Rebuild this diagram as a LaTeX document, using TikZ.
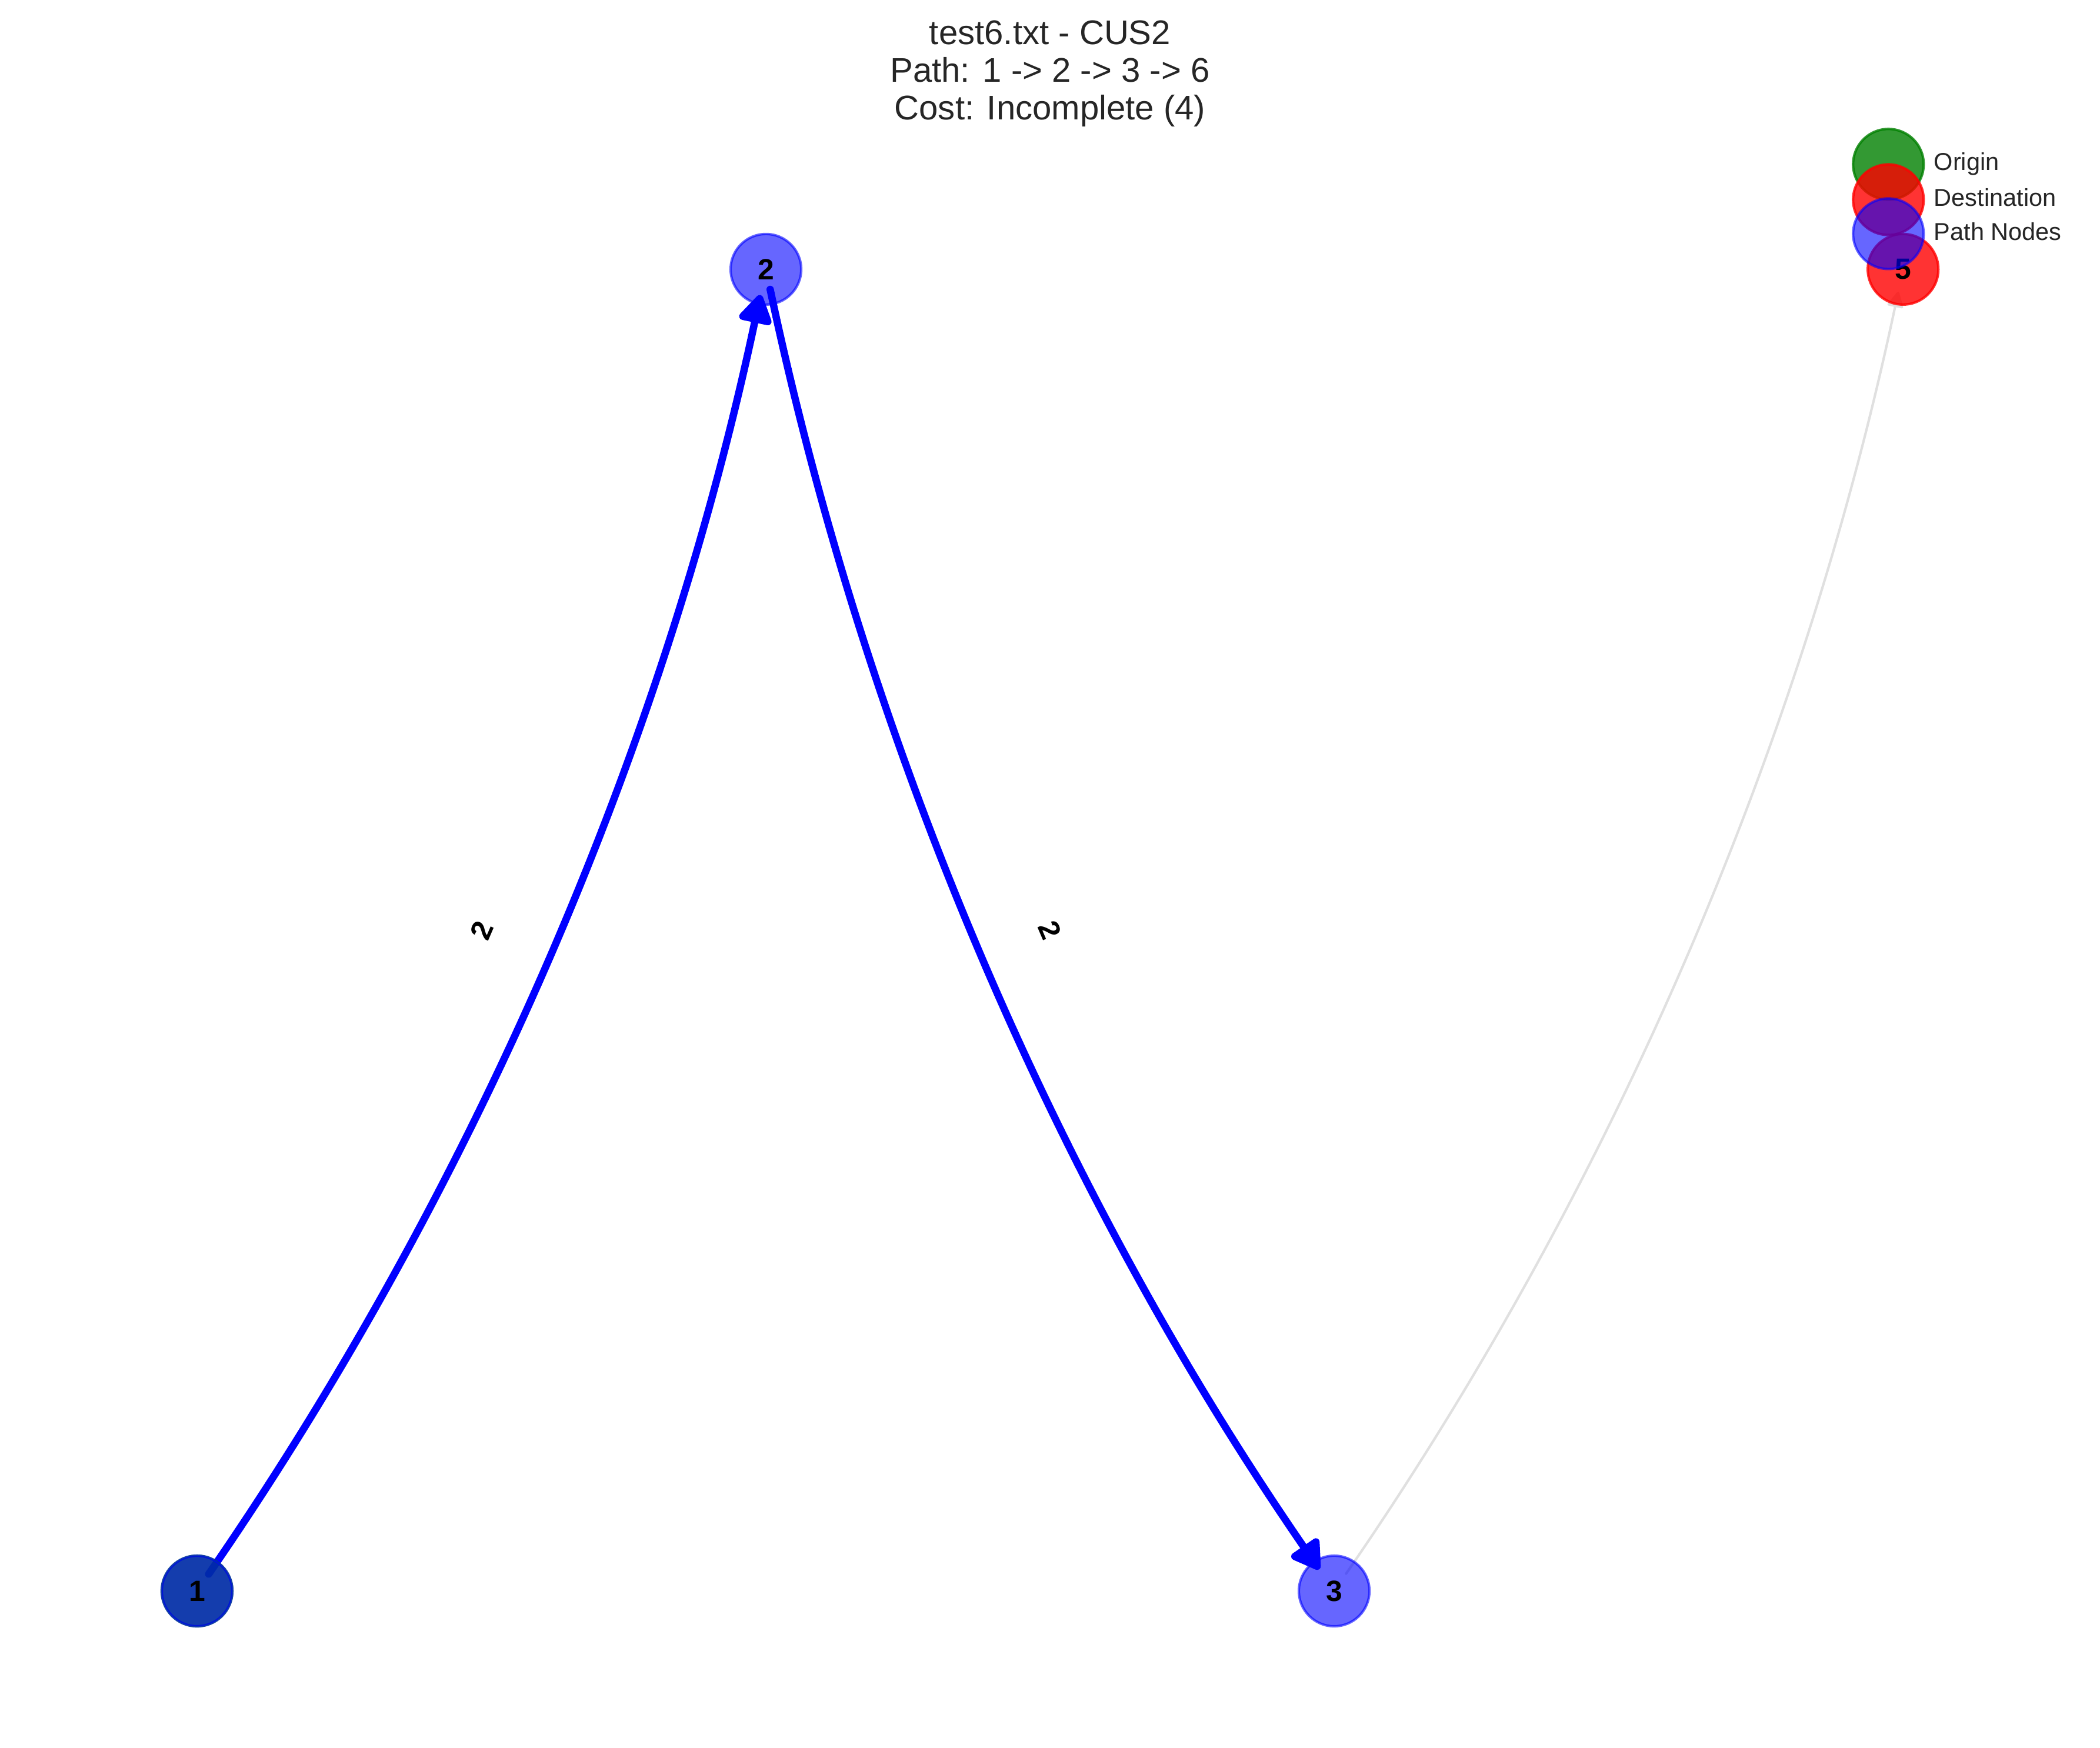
\documentclass[tikz,border=0pt]{standalone}
\usepackage{fontspec}
\setmainfont{Liberation Sans}
\usetikzlibrary{arrows.meta,backgrounds}

\definecolor{mplgreen}{RGB}{0,128,0}
\definecolor{mplred}{RGB}{255,0,0}
\definecolor{mplblue}{RGB}{0,0,255}
\definecolor{txtgray}{RGB}{38,38,38}
\definecolor{edgegray}{RGB}{224,224,224}

\begin{document}
\begin{tikzpicture}[
  vertex/.style={circle,minimum size=1.016cm,inner sep=0pt,line width=1pt,text opacity=1,font=\fontsize{12}{14}\selectfont\bfseries},
  pathnode/.style={vertex,draw=mplblue,fill=mplblue,fill opacity=0.6,draw opacity=0.6},
  orignode/.style={vertex,draw=mplgreen,fill=mplgreen,fill opacity=0.8,draw opacity=0.8},
  destnode/.style={vertex,draw=mplred,fill=mplred,fill opacity=0.8,draw opacity=0.8},
  pathedge/.style={mplblue,line width=3pt,line cap=round,-{Triangle[length=13pt,width=15pt,round]},shorten <=8.4pt,shorten >=10.8pt,bend right=11.3,looseness=0.87},
  otheredge/.style={edgegray,line width=1pt,line cap=round,-{Triangle[length=7pt,width=7pt,round]},shorten <=8.6pt,shorten >=9.4pt,bend right=11.3,looseness=0.87},
  elabel/.style={sloped,inner sep=0pt,font=\fontsize{12}{14}\selectfont\bfseries},
  legtext/.style={anchor=base west,inner sep=0pt,text=txtgray,font=\fontsize{10}{12}\selectfont}
]

\useasboundingbox (0,0) rectangle (30.226,25.155);

\node[align=center,anchor=north,inner sep=0pt,text=txtgray,font=\fontsize{14}{15.4}\selectfont] (title) at (15.113,24.866)
  {test6.txt - CUS2\\Path: 1 -> 2 -> 3 -> 6\\Cost: Incomplete (4)};

% graph nodes
\node[orignode] (n1o) at (2.836,2.252) {};
\node[pathnode] (n1) at (2.836,2.252) {1};
\node[pathnode] (n2) at (11.024,21.278) {2};
\node[pathnode] (n3) at (19.203,2.252) {3};
\node[destnode] (n5) at (27.391,21.278) {5};

\begin{pgfonlayer}{background}
\fill[white] (0,0) rectangle (30.226,25.155);
\draw[pathedge] (n1.center) to (n2.center);
\draw[pathedge] (n2.center) to (n3.center);
\draw[otheredge] (n3.center) to (n5.center);
\end{pgfonlayer}

\path (n1.center) -- node[elabel] {2} (n2.center);
\path (n2.center) -- node[elabel] {2} (n3.center);

% legend
\node[orignode] (lgo) at (27.18,22.79) {};
\node[destnode] (lgd) at (27.18,22.28) {};
\node[pathnode] (lgp) at (27.18,21.79) {};
\node[legtext] at (27.83,22.70) {Origin};
\node[legtext] at (27.83,22.19) {Destination};
\node[legtext] at (27.83,21.70) {Path Nodes};
\end{tikzpicture}
\end{document}
